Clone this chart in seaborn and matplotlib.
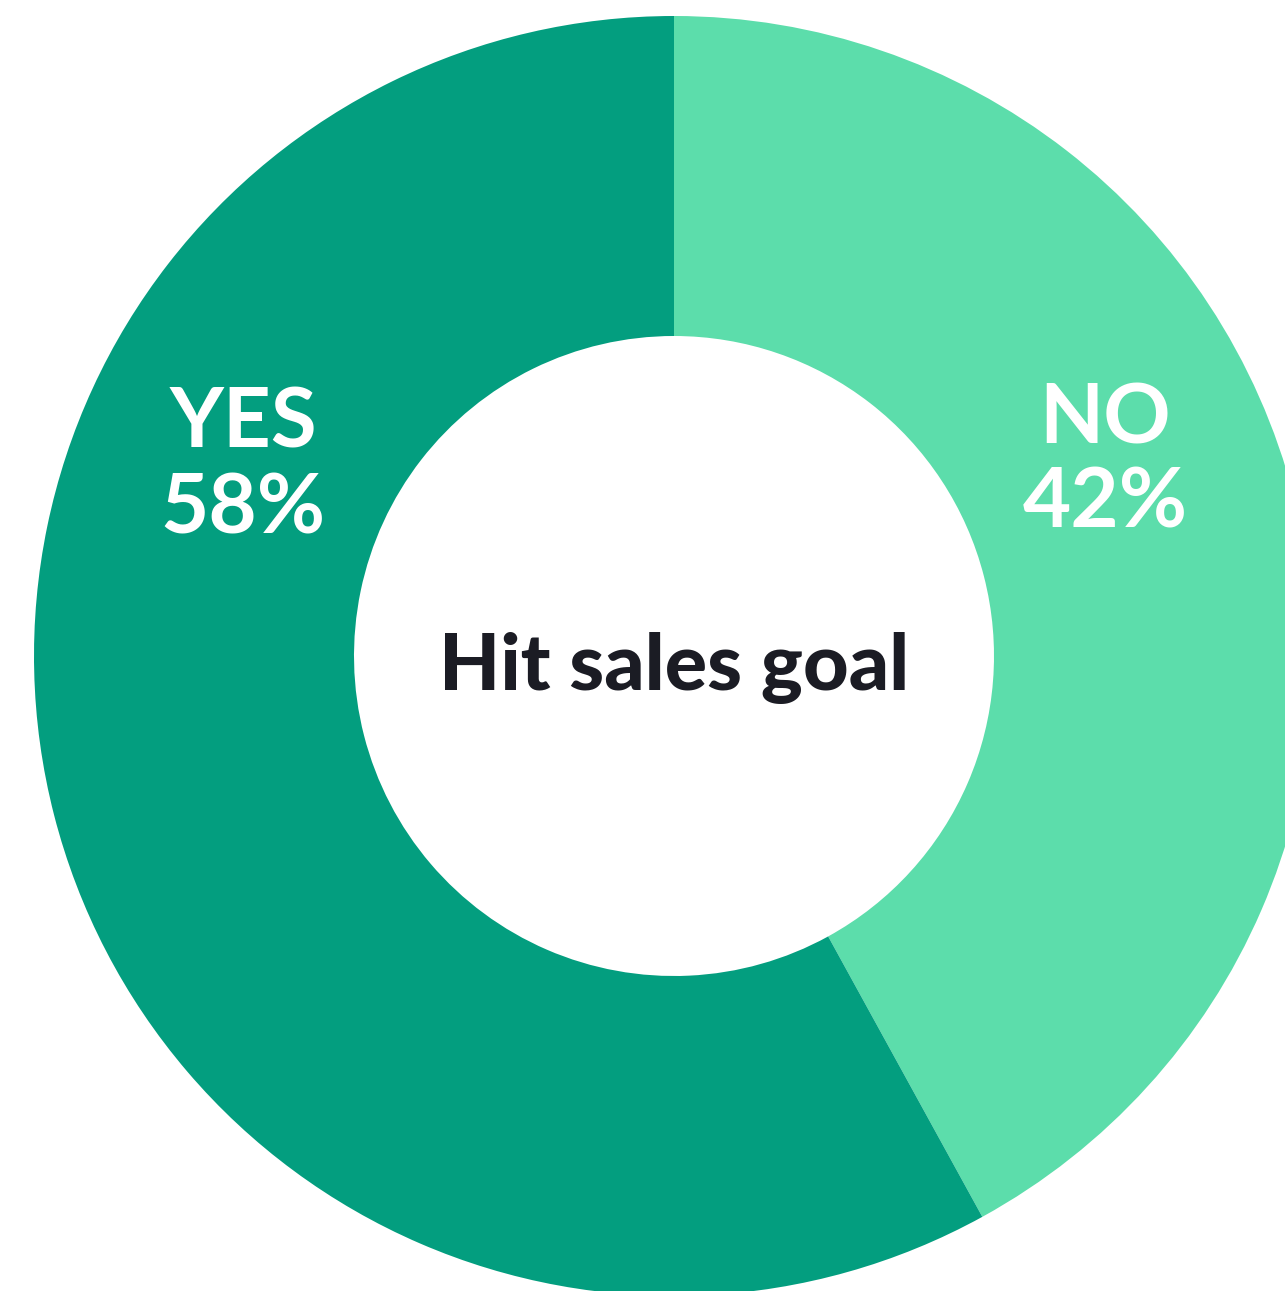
import matplotlib
matplotlib.use("Agg")
import matplotlib.pyplot as plt
import seaborn as sns

# Survey answer: did the rep hit their sales goal?
answers = ["NO", "YES"]
shares = [42, 58]
slice_colors = ["#5CDDAB", "#039E7F"]
center_title = "Hit sales goal"

sns.set_theme(style="white")
plt.rcParams["font.family"] = ["Lato", "DejaVu Sans"]

W, H = 1285, 1291
fig = plt.figure(figsize=(W / 100, H / 100), dpi=100)
ax = fig.add_axes([0, 0, 1, 1])

cx, cy = 674, H - 656
r_out, ring = 640, 320

ax.pie(
    shares,
    colors=slice_colors,
    startangle=90,
    counterclock=False,
    radius=r_out,
    center=(cx, cy),
    wedgeprops=dict(width=ring, linewidth=0),
)

# Slice labels (pixel positions of label baselines)
label_pos = {"NO": (1105, 443, 528), "YES": (243, 447, 533)}
for name, val in zip(answers, shares):
    x, y1, y2 = label_pos[name]
    ax.text(x, H - y1, name, ha="center", va="baseline", color="white",
            fontsize=60, fontweight="bold")
    ax.text(x, H - y2, f"{val}%", ha="center", va="baseline", color="white",
            fontsize=60, fontweight="bold")

ax.text(cx, H - 690, center_title, ha="center", va="baseline",
        color="#1B1C24", fontsize=57, fontweight="black")

ax.set_xlim(0, W)
ax.set_ylim(0, H)
ax.set_aspect("auto")
ax.axis("off")

fig.savefig("out.png", dpi=100, facecolor="white")
